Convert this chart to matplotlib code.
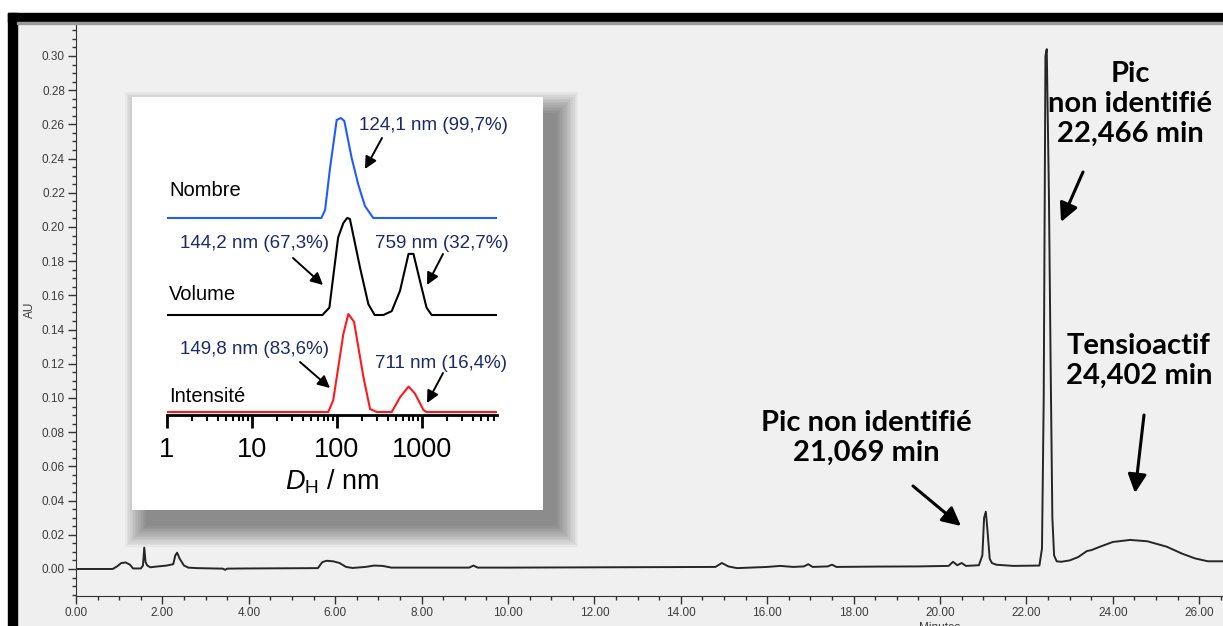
import matplotlib
matplotlib.use('Agg')
import matplotlib.pyplot as plt
from matplotlib.patches import Rectangle
from matplotlib.ticker import MultipleLocator, FormatStrFormatter, LogLocator, NullFormatter, FixedLocator

plt.rcParams['font.family'] = ['Liberation Sans', 'DejaVu Sans']
plt.rcParams['mathtext.fontset'] = 'custom'
plt.rcParams['mathtext.rm'] = 'Liberation Sans'
plt.rcParams['mathtext.it'] = 'Liberation Sans:italic'

# chromatogram (minutes, AU)
time_min = [0, 0.85, 0.95, 1.05, 1.15, 1.25, 1.32, 1.5, 1.55, 1.58, 1.61, 1.65, 1.72, 1.9,
            2.1, 2.25, 2.3, 2.34, 2.4, 2.5, 2.6, 2.8, 3.4, 3.45, 3.5, 3.9, 5.6, 5.7, 5.8,
            5.95, 6.1, 6.25, 6.4, 6.7, 6.9, 7.1, 7.3, 9.1, 9.2, 9.3, 10.0, 14.8, 14.95,
            15.1, 15.3, 16.0, 16.3, 16.6, 16.85, 16.95, 17.05, 17.4, 17.5, 17.6, 18.5,
            19.5, 20.2, 20.3, 20.4, 20.5, 20.6, 20.9, 20.98, 21.02, 21.06, 21.1, 21.15,
            21.2, 21.3, 21.7, 22.3, 22.36, 22.4, 22.44, 22.47, 22.52, 22.56, 22.6, 22.64,
            22.7, 22.8, 23.0, 23.2, 23.4, 23.5, 23.7, 24.0, 24.4, 24.8, 25.25, 25.6, 25.9,
            26.2, 26.6]
absorbance = [0, 0, 0.0015, 0.0035, 0.0038, 0.0025, 0.0003, 0.0003, 0.002, 0.0125, 0.004,
              0.002, 0.001, 0.0015, 0.002, 0.0028, 0.008, 0.0095, 0.006, 0.002, 0.0008,
              0.0005, 0.0002, -0.0005, 0.0002, 0.0003, 0.0005, 0.004, 0.0048, 0.0045,
              0.0035, 0.0012, 0.0006, 0.0012, 0.002, 0.0018, 0.0008, 0.0008, 0.002, 0.0008,
              0.0008, 0.0012, 0.0035, 0.0015, 0.0005, 0.0012, 0.0018, 0.0012, 0.0015,
              0.0028, 0.0012, 0.0015, 0.0025, 0.0012, 0.0014, 0.0015, 0.0018, 0.0042,
              0.0022, 0.0035, 0.0018, 0.0022, 0.008, 0.030, 0.0335, 0.022, 0.006, 0.0035,
              0.0025, 0.0018, 0.002, 0.012, 0.10, 0.30, 0.304, 0.22, 0.12, 0.03, 0.008,
              0.0045, 0.0042, 0.005, 0.007, 0.0105, 0.011, 0.013, 0.0158, 0.017, 0.0162,
              0.013, 0.009, 0.0062, 0.0045, 0.0045]

# DLS size distributions (nm, relative)
nombre_d = [1, 66, 73, 83.5, 100, 112, 123, 150, 180, 215, 269, 7690]
nombre_v = [0, 0, 0.08, 0.5, 0.98, 1.0, 0.97, 0.6, 0.33, 0.12, 0, 0]
volume_d = [1, 68, 82, 104, 120, 133, 143, 188, 236, 280, 354, 444, 556, 700, 800, 955,
            1140, 1310, 7690]
volume_v = [0, 0, 0.076, 0.8, 0.95, 1.0, 0.99, 0.49, 0.11, 0, 0, 0.04, 0.25, 0.63, 0.63,
            0.35, 0.076, 0, 0]
intens_d = [1, 79.6, 91, 120, 137, 160, 206, 247, 297, 444, 556, 700, 830, 1050, 1140, 7690]
intens_v = [0, 0, 0.12, 0.8, 1.0, 0.92, 0.36, 0.03, 0, 0, 0.15, 0.26, 0.19, 0.02, 0, 0]

W, H = 1223, 626


def fx(x):
    return x / W


def fy(y):
    return 1 - y / H


fig = plt.figure(figsize=(W / 100, H / 100), dpi=100)
fig.patch.set_facecolor('white')

# screenshot frame
fig.add_artist(Rectangle((fx(17), 0), 1, fy(22), transform=fig.transFigure,
                         color='#efefef', zorder=-2))
fig.add_artist(Rectangle((fx(8), fy(22)), 1, 9 / H, transform=fig.transFigure,
                         color='black', zorder=1))
fig.add_artist(Rectangle((fx(8), 0), 9 / W, fy(13), transform=fig.transFigure,
                         color='black', zorder=1))
fig.add_artist(Rectangle((fx(17), fy(24)), 1, 2 / H, transform=fig.transFigure,
                         color='#9a9a9a', zorder=1))

# main chromatogram
ax = fig.add_axes([fx(76), fy(596), 1 - fx(76), (596 - 24) / H])
ax.set_facecolor('#f0f0f0')
ax.plot(time_min, absorbance, color='#262626', lw=1.4)
ax.set_xlim(0, 26.55)
ax.set_ylim(-0.0158, (569 - 24) / 1710)
for s in ['top', 'right']:
    ax.spines[s].set_visible(False)
for s in ['left', 'bottom']:
    ax.spines[s].set_color('#333333')
ax.xaxis.set_major_locator(MultipleLocator(2))
ax.xaxis.set_minor_locator(MultipleLocator(0.5))
ax.yaxis.set_major_locator(MultipleLocator(0.02))
ax.yaxis.set_minor_locator(MultipleLocator(0.005))
ax.xaxis.set_major_formatter(FormatStrFormatter('%.2f'))
ax.yaxis.set_major_formatter(FormatStrFormatter('%.2f'))
ax.set_yticks([v / 100 for v in range(0, 31, 2)])
ax.tick_params(which='major', length=6, width=1, color='#333333', labelsize=8.5,
               labelcolor='#3c3c3c', pad=2)
ax.tick_params(which='minor', length=3, width=1, color='#333333')
ax.set_ylabel('AU', fontsize=8.5, color='#3c3c3c')
ax.yaxis.set_label_coords((36 - 76) / 1147, (596 - 310) / 572)
ax.set_xlabel('Minutes', fontsize=8.5, color='#3c3c3c')
ax.xaxis.set_label_coords((940 - 76) / 1147, (596 - 622) / 572)

# big annotations
big = dict(fontsize=21, fontweight='bold', family='Lato', ha='center', va='center',
           linespacing=1.2)
fig.text(fx(866), fy(438), 'Pic non identifié\n21,069 min', **big)
fig.text(fx(1130), fy(104), 'Pic\nnon identifié\n22,466 min', **big)
fig.text(fx(1139), fy(361), 'Tensioactif\n24,402 min', **big)
arrow_big = dict(arrowstyle='-|>', lw=2.2, color='black', mutation_scale=28,
                 shrinkA=0, shrinkB=0)
for tail, tip in [((913, 486), (961, 526)), ((1083, 172), (1061, 222)),
                  ((1144, 415), (1135, 493))]:
    ax.annotate('', xy=(fx(tip[0]), fy(tip[1])), xytext=(fx(tail[0]), fy(tail[1])),
                xycoords='figure fraction', arrowprops=arrow_big, annotation_clip=False)

# inset box with soft shadow, cast towards the lower right
bx0, by0, bx1, by1 = 132, 97, 543, 510
for i in range(14):
    g = 1.6 * i
    fig.add_artist(Rectangle((fx(bx0 + 14 - g), fy(by1 + 16 + g)),
                             (bx1 - bx0 + 2 * g) / W, (by1 - by0 + 2 * g) / H,
                             transform=fig.transFigure, facecolor='black',
                             edgecolor='none', alpha=0.036, zorder=1.5))
fig.add_artist(Rectangle((fx(bx0), fy(by1)), (bx1 - bx0) / W, (by1 - by0) / H,
                         transform=fig.transFigure, facecolor='white',
                         edgecolor='none', zorder=2))

ax_in = fig.add_axes([fx(166.7), fy(415), (497 - 166.7) / W, 315 / H])
ax_in.set_zorder(5)
ax_in.patch.set_visible(False)
ax_in.set_xscale('log')
ax_in.set_xlim(1, 7690)
ax_in.set_ylim(0, 315)
ax_in.plot(nombre_d, [197 + 100 * v for v in nombre_v], color='#1f5cff', lw=1.5)
ax_in.plot(volume_d, [100 + 97 * v for v in volume_v], color='black', lw=1.5)
ax_in.plot(intens_d, [3 + 98 * v for v in intens_v], color='#ff1a1a', lw=1.5)
for s in ['top', 'right', 'left']:
    ax_in.spines[s].set_visible(False)
ax_in.spines['bottom'].set_linewidth(2)
ax_in.set_yticks([])
ax_in.xaxis.set_major_locator(FixedLocator([1, 10, 100, 1000]))
ax_in.xaxis.set_minor_locator(LogLocator(base=10, subs=range(2, 10), numticks=20))
ax_in.xaxis.set_minor_formatter(NullFormatter())
ax_in.set_xticklabels(['1', '10', '100', '1000'])
ax_in.tick_params(which='major', length=9, width=2, labelsize=19.5, pad=7)
ax_in.tick_params(which='minor', length=4, width=1.5)
ax_in.set_xlabel(r'$\mathit{D}_\mathrm{H}$ / nm', fontsize=19.5, labelpad=3)

lab = dict(fontsize=14.5, ha='left', va='center', zorder=6)
fig.text(fx(169), fy(191), 'Nombre', **lab)
fig.text(fx(169), fy(294), 'Volume', **lab)
fig.text(fx(169), fy(396), 'Intensité', **lab)
navy = dict(fontsize=13.5, color='#1b2a6b', ha='left', va='center', zorder=6)
fig.text(fx(359), fy(125), '124,1 nm (99,7%)', **navy)
fig.text(fx(180), fy(243), '144,2 nm (67,3%)', **navy)
fig.text(fx(375), fy(243), '759 nm (32,7%)', **navy)
fig.text(fx(180), fy(349), '149,8 nm (83,6%)', **navy)
fig.text(fx(375), fy(363), '711 nm (16,4%)', **navy)
arrow_small = dict(arrowstyle='-|>', lw=1.4, color='black', mutation_scale=18,
                   shrinkA=0, shrinkB=0)
for tail, tip in [((382, 138), (365, 169)), ((293, 258), (323, 285)),
                  ((443, 254), (427, 285)), ((300, 362), (330, 388)),
                  ((443, 373), (427, 403))]:
    ax_in.annotate('', xy=(fx(tip[0]), fy(tip[1])), xytext=(fx(tail[0]), fy(tail[1])),
                   xycoords='figure fraction', arrowprops=arrow_small,
                   annotation_clip=False)

fig.savefig('out.png', dpi=100)
